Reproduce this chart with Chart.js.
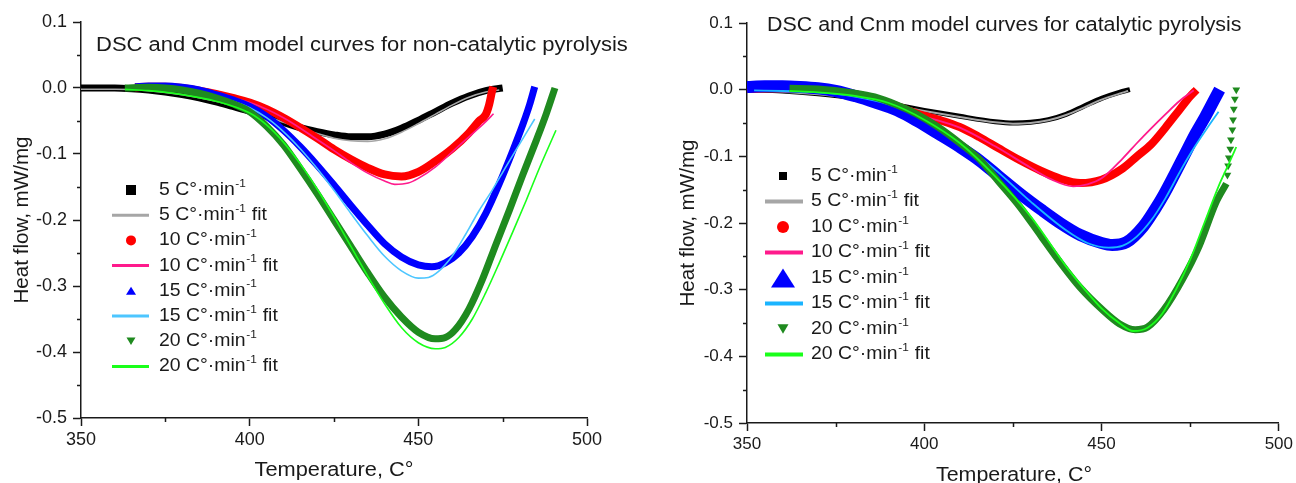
<!DOCTYPE html>
<html>
<head>
<meta charset="utf-8">
<title>DSC and Cnm model curves</title>
<script src="https://cdn.jsdelivr.net/npm/chart.js@4.4.1/dist/chart.umd.min.js"></script>
<style>
	html, body { margin: 0; padding: 0; background: #fff; }
	.panel { position: absolute; top: 0; width: 648px; height: 483px; }
	#panel-nc { left: 0; }
	#panel-ct { left: 648px; }
</style>
</head>
<body>
<div class="panel" id="panel-nc"><canvas id="chartNc"></canvas></div>
<div class="panel" id="panel-ct"><canvas id="chartCt"></canvas></div>
<script>
(function() {
	'use strict';

	/* ═══ DATA ═══ */

	var xMajor = [ 350, 400, 450, 500 ];
	var xMinor = [ 375, 425, 475 ];
	var yMajor = [ 0.1, 0.0, -0.1, -0.2, -0.3, -0.4, -0.5 ];
	var yMinor = [ 0.05, -0.05, -0.15, -0.25, -0.35, -0.45 ];

	var seriesNames = [
		'5 C°·min⁻¹', '5 C°·min⁻¹ fit',
		'10 C°·min⁻¹', '10 C°·min⁻¹ fit',
		'15 C°·min⁻¹', '15 C°·min⁻¹ fit',
		'20 C°·min⁻¹', '20 C°·min⁻¹ fit'
	];

	// non-catalytic pyrolysis (left)
	var ncT5     = [ 350, 355, 360, 365, 370, 375, 380, 385, 390, 395, 400, 405, 410, 415, 420, 425, 430, 435, 440, 445, 450, 455, 460, 465, 470, 475 ];
	var ncDsc5   = [ 0.000, 0.000, 0.000, -0.001, -0.003, -0.006, -0.010, -0.015, -0.021, -0.028, -0.035, -0.043, -0.052, -0.060, -0.066, -0.071, -0.074, -0.074, -0.070, -0.061, -0.049, -0.036, -0.023, -0.012, -0.004, 0.000 ];
	var ncFitT5  = [ 350, 360, 370, 380, 390, 400, 410, 420, 425, 430, 435, 440, 445, 450, 455, 460, 465, 470, 474 ];
	var ncFit5   = [ -0.002, -0.002, -0.004, -0.010, -0.020, -0.034, -0.052, -0.069, -0.076, -0.080, -0.081, -0.077, -0.067, -0.054, -0.040, -0.026, -0.014, -0.006, -0.003 ];

	var ncT10    = [ 366, 370, 375, 380, 385, 390, 395, 400, 405, 410, 415, 420, 425, 430, 435, 440, 445, 450, 455, 460, 465, 468, 470, 471, 471.8, 472.2 ];
	var ncDsc10  = [ 0.001, 0.002, 0.002, 0.000, -0.004, -0.009, -0.015, -0.022, -0.032, -0.045, -0.060, -0.076, -0.093, -0.108, -0.121, -0.131, -0.134, -0.127, -0.111, -0.092, -0.068, -0.050, -0.040, -0.025, -0.006, 0.002 ];
	var ncFitT10 = [ 365, 370, 380, 390, 400, 410, 420, 425, 430, 435, 440, 443, 447, 450, 455, 460, 465, 470, 472.3 ];
	var ncFit10  = [ -0.003, -0.003, -0.005, -0.011, -0.022, -0.045, -0.078, -0.095, -0.113, -0.129, -0.141, -0.146, -0.144, -0.137, -0.120, -0.097, -0.074, -0.051, -0.039 ];

	var ncT15    = [ 366, 370, 375, 380, 385, 390, 395, 400, 405, 410, 415, 420, 425, 430, 435, 440, 445, 450, 454, 458, 462, 466, 470, 474, 478, 481, 483, 484.5 ];
	var ncDsc15  = [ 0.002, 0.003, 0.003, 0.001, -0.003, -0.010, -0.018, -0.028, -0.043, -0.064, -0.089, -0.117, -0.147, -0.178, -0.208, -0.236, -0.256, -0.268, -0.271, -0.265, -0.250, -0.225, -0.190, -0.145, -0.095, -0.055, -0.025, 0.002 ];
	var ncFitT15 = [ 366, 375, 385, 395, 400, 405, 410, 415, 420, 425, 430, 435, 440, 445, 450, 453, 456, 460, 464, 468, 472, 476, 480, 484.5 ];
	var ncFit15  = [ -0.002, -0.003, -0.008, -0.020, -0.030, -0.045, -0.066, -0.092, -0.122, -0.155, -0.190, -0.224, -0.255, -0.277, -0.288, -0.287, -0.278, -0.255, -0.222, -0.186, -0.154, -0.119, -0.085, -0.047 ];

	var ncT20    = [ 363, 370, 375, 380, 385, 390, 395, 400, 405, 410, 415, 420, 425, 430, 435, 440, 445, 450, 455, 458, 461, 465, 469, 473, 477, 481, 485, 488, 490.5 ];
	var ncDsc20  = [ 0.000, 0.001, 0.000, -0.003, -0.008, -0.015, -0.024, -0.036, -0.058, -0.086, -0.122, -0.160, -0.200, -0.240, -0.280, -0.317, -0.347, -0.370, -0.380, -0.378, -0.366, -0.335, -0.290, -0.237, -0.185, -0.131, -0.079, -0.038, 0.000 ];
	var ncFitT20 = [ 363, 370, 380, 390, 400, 405, 410, 415, 420, 425, 430, 435, 440, 445, 450, 455, 458, 462, 466, 470, 474, 478, 482, 486, 490.8 ];
	var ncFit20  = [ -0.002, -0.004, -0.010, -0.020, -0.038, -0.056, -0.082, -0.115, -0.153, -0.195, -0.240, -0.285, -0.327, -0.363, -0.386, -0.395, -0.393, -0.378, -0.350, -0.310, -0.265, -0.218, -0.170, -0.120, -0.064 ];

	// catalytic pyrolysis (right)
	var ctT5     = [ 350, 360, 370, 380, 390, 400, 410, 420, 425, 430, 435, 440, 445, 450, 455, 458 ];
	var ctDsc5   = [ 0.000, -0.002, -0.006, -0.012, -0.021, -0.031, -0.040, -0.048, -0.050, -0.049, -0.045, -0.037, -0.025, -0.013, -0.004, 0.000 ];
	var ctFitT5  = [ 350, 360, 370, 380, 390, 400, 410, 420, 425, 430, 435, 440, 445, 450, 455, 457.5 ];
	var ctFit5   = [ -0.001, -0.003, -0.007, -0.013, -0.022, -0.032, -0.041, -0.049, -0.051, -0.050, -0.046, -0.038, -0.027, -0.015, -0.006, -0.002 ];

	var ctT10    = [ 350, 360, 370, 380, 390, 398, 404, 410, 415.5, 421, 427, 433, 438.6, 444, 450, 456, 460, 464, 468, 472, 475, 476.8 ];
	var ctDsc10  = [ 0.001, 0.002, 0.000, -0.006, -0.020, -0.036, -0.045, -0.056, -0.071, -0.088, -0.106, -0.122, -0.134, -0.140, -0.135, -0.118, -0.100, -0.082, -0.057, -0.030, -0.010, 0.000 ];
	var ctFitT10 = [ 350, 370, 390, 400, 410, 420, 430, 436, 442, 446, 450, 456, 460, 464, 468, 472, 476 ];
	var ctFit10  = [ -0.001, -0.003, -0.020, -0.040, -0.057, -0.085, -0.117, -0.135, -0.145, -0.142, -0.133, -0.103, -0.080, -0.058, -0.037, -0.017, -0.001 ];

	var ctT15    = [ 350, 355, 360, 365, 370, 375, 380.7, 386, 392.3, 398, 403.9, 410, 415.5, 421, 427, 433, 438.6, 444, 450, 453, 457, 461.8, 465, 467.6, 470.5, 473.4, 476.5, 479.3, 481.5, 483.3 ];
	var ctDsc15  = [ 0.004, 0.005, 0.005, 0.004, 0.002, -0.002, -0.010, -0.019, -0.031, -0.047, -0.066, -0.086, -0.106, -0.130, -0.156, -0.180, -0.201, -0.218, -0.230, -0.233, -0.229, -0.205, -0.180, -0.157, -0.128, -0.098, -0.066, -0.040, -0.018, 0.000 ];
	var ctFitT15 = [ 352, 360, 370, 380, 390, 400, 410, 420, 430, 440, 446, 452, 456, 460, 464, 468, 472, 476, 480, 483 ];
	var ctFit15  = [ -0.001, -0.002, -0.004, -0.010, -0.022, -0.045, -0.078, -0.120, -0.168, -0.211, -0.230, -0.237, -0.234, -0.220, -0.196, -0.163, -0.124, -0.088, -0.056, -0.033 ];

	var ctT20    = [ 362, 370, 380, 386, 392.3, 398, 403.9, 410, 415.5, 421, 427, 433, 438.6, 444, 450.2, 455, 459.5, 463, 467.6, 472.8, 477.5, 482.2, 485.2 ];
	var ctDsc20  = [ 0.002, 0.001, -0.005, -0.011, -0.023, -0.037, -0.056, -0.080, -0.104, -0.138, -0.176, -0.220, -0.261, -0.297, -0.330, -0.351, -0.360, -0.356, -0.330, -0.285, -0.235, -0.170, -0.141 ];
	var ctTailT20 = [ 485.5, 485.7, 485.9, 486.3, 486.5, 486.9, 487.1, 487.3, 487.6, 488.0 ];
	var ctTail20  = [ -0.128, -0.114, -0.102, -0.089, -0.075, -0.060, -0.045, -0.029, -0.014, 0.000 ];
	var ctFitT20 = [ 362, 370, 380, 390, 400, 410, 420, 430, 440, 445, 450, 455, 459, 463, 467, 471, 475, 479, 483, 486, 488 ];
	var ctFit20  = [ -0.002, -0.004, -0.009, -0.020, -0.045, -0.080, -0.130, -0.190, -0.265, -0.298, -0.328, -0.350, -0.362, -0.357, -0.337, -0.300, -0.255, -0.200, -0.145, -0.110, -0.086 ];

	/* ═══ HELPERS ═══ */

	var FONT = '"Liberation Sans", Arial, Helvetica, sans-serif';
	var INK  = '#1a1a1a';

	function pts( t, v ) {
		var out = [];
		for ( var i = 0; i < t.length; i++ ) out.push({ x: t[i], y: v[i] });
		return out;
	}

	function band( label, t, v, color, width, symbol ) {
		return {
			label: label,
			data: pts( t, v ),
			borderColor: color,
			backgroundColor: color,
			borderWidth: width,
			borderCapStyle: 'butt',
			borderJoinStyle: 'round',
			cubicInterpolationMode: 'monotone',
			pointRadius: 0,
			fill: false,
			symbol: symbol
		};
	}

	function fitLine( label, t, v, color, width ) {
		return {
			label: label,
			data: pts( t, v ),
			borderColor: color,
			backgroundColor: color,
			borderWidth: width,
			cubicInterpolationMode: 'monotone',
			pointRadius: 0,
			fill: false,
			symbol: { type: 'line' }
		};
	}

	// later series sit on top, like the original plot
	function stackOrder( sets ) {
		for ( var i = 0; i < sets.length; i++ ) sets[i].order = sets.length - i;
		return sets;
	}

	function stretchText( ctx, text, x, y, size, sx, align ) {
		ctx.save();
		ctx.font = size + 'px ' + FONT;
		ctx.translate( x, y );
		ctx.scale( sx, 1 );
		var w = ctx.measureText( text ).width;
		var dx = align === 'center' ? -w / 2 : 0;
		ctx.fillText( text, dx, 0 );
		ctx.restore();
	}

	function drawSymbol( ctx, sym, cx, cy, color, o ) {
		ctx.save();
		ctx.fillStyle = color;
		ctx.strokeStyle = color;
		var s = sym.size || 8;
		ctx.beginPath();
		if ( sym.type === 'line' ) {
			ctx.lineWidth = o.lineWidth;
			ctx.moveTo( o.lineFrom, cy );
			ctx.lineTo( o.lineTo, cy );
			ctx.stroke();
		} else if ( sym.type === 'rect' ) {
			ctx.fillRect( cx - s / 2, cy - s / 2, s, s );
		} else if ( sym.type === 'circle' ) {
			ctx.arc( cx, cy, s / 2, 0, Math.PI * 2 );
			ctx.fill();
		} else if ( sym.type === 'triangle' ) {
			var h = s * 0.8;
			ctx.moveTo( cx, cy - h / 2 );
			ctx.lineTo( cx + s / 2, cy + h / 2 );
			ctx.lineTo( cx - s / 2, cy + h / 2 );
			ctx.closePath();
			ctx.fill();
		} else if ( sym.type === 'triangleDown' ) {
			var h2 = s * 0.85;
			ctx.moveTo( cx - s / 2, cy - h2 / 2 );
			ctx.lineTo( cx + s / 2, cy - h2 / 2 );
			ctx.lineTo( cx, cy + h2 / 2 );
			ctx.closePath();
			ctx.fill();
		}
		ctx.restore();
	}

	// label with the "⁻¹" drawn as a raised small "-1"
	function drawLegendLabel( ctx, label, x, y, size, sx ) {
		var parts = label.split( '⁻¹' );
		ctx.save();
		ctx.translate( x, y );
		ctx.scale( sx, 1 );
		ctx.textBaseline = 'middle';
		ctx.font = size + 'px ' + FONT;
		ctx.fillText( parts[0], 0, 0 );
		var w = ctx.measureText( parts[0] ).width;
		if ( parts.length > 1 ) {
			ctx.font = Math.round( size * 0.62 ) + 'px ' + FONT;
			ctx.fillText( '-1', w + 0.5, -size * 0.36 );
			w += ctx.measureText( '-1' ).width + 1;
			ctx.font = size + 'px ' + FONT;
			ctx.fillText( parts[1], w, 0 );
		}
		ctx.restore();
	}

	/* ═══ DECORATION PLUGIN (titles, minor ticks, inner legend) ═══ */

	var decorPlugin = {
		id: 'decor',
		afterDraw: function( chart, args, o ) {
			var ctx  = chart.ctx;
			var xs   = chart.scales.x;
			var ys   = chart.scales.y;
			var area = chart.chartArea;
			ctx.save();

			// minor ticks
			ctx.strokeStyle = INK;
			ctx.lineWidth = 1.5;
			ctx.beginPath();
			xMinor.forEach( function( v ) {
				var px = Math.round( xs.getPixelForValue( v ) ) + 0.5;
				ctx.moveTo( px, area.bottom );
				ctx.lineTo( px, area.bottom + 4 );
			});
			yMinor.forEach( function( v ) {
				var py = Math.round( ys.getPixelForValue( v ) ) + 0.5;
				ctx.moveTo( area.left - 4, py );
				ctx.lineTo( area.left, py );
			});
			ctx.stroke();

			ctx.fillStyle = INK;
			ctx.textBaseline = 'middle';

			// chart title
			stretchText( ctx, o.title.text, o.title.x, o.title.y, o.title.size, o.title.sx, 'left' );

			// axis titles
			ctx.textBaseline = 'alphabetic';
			stretchText( ctx, o.xTitle.text, o.xTitle.x, o.xTitle.y, o.xTitle.size, o.xTitle.sx, 'center' );
			ctx.save();
			ctx.translate( o.yTitle.x, o.yTitle.y );
			ctx.rotate( -Math.PI / 2 );
			ctx.textBaseline = 'middle';
			stretchText( ctx, o.yTitle.text, 0, 0, o.yTitle.size, o.yTitle.sx, 'center' );
			ctx.restore();

			// legend
			var lg = o.legend;
			var row = 0;
			chart.data.datasets.forEach( function( ds ) {
				if ( ! ds.symbol ) return;
				var cy = lg.y + row * lg.step;
				drawSymbol( ctx, ds.symbol, lg.symbolX, cy, ds.borderColor, lg );
				ctx.fillStyle = INK;
				drawLegendLabel( ctx, ds.label, lg.textX, cy, lg.size, lg.sx );
				row++;
			});

			ctx.restore();
		}
	};

	function yLabel( v ) {
		if ( Math.abs( v ) < 1e-9 ) return '0.0';
		return v.toFixed( 1 );
	}

	function makeOptions( cfg ) {
		return {
			responsive: true,
			maintainAspectRatio: false,
			animation: false,
			layout: { padding: { left: 0, right: cfg.padRight, top: cfg.padTop, bottom: 0 } },
			plugins: {
				legend: { display: false },
				tooltip: { enabled: false },
				decor: cfg.decor
			},
			scales: {
				x: {
					type: 'linear',
					min: xMajor[0],
					max: xMajor[ xMajor.length - 1 ],
					afterBuildTicks: function( s ) {
						s.ticks = xMajor.map( function( v ) { return { value: v }; } );
					},
					afterFit: function( s ) { s.height = cfg.xHeight; },
					ticks: {
						font: { family: FONT, size: cfg.tickSize },
						color: INK,
						padding: 3,
						maxRotation: 0,
						callback: function( v ) { return String( v ); }
					},
					grid: { drawOnChartArea: false, tickLength: 8, tickColor: INK, tickWidth: 1.5 },
					border: { display: true, color: INK, width: 1.5 }
				},
				y: {
					type: 'linear',
					min: yMajor[ yMajor.length - 1 ],
					max: yMajor[0],
					afterBuildTicks: function( s ) {
						s.ticks = yMajor.slice().reverse().map( function( v ) { return { value: v }; } );
					},
					afterFit: function( s ) { s.width = cfg.yWidth; },
					ticks: {
						font: { family: FONT, size: cfg.tickSize },
						color: INK,
						padding: 6,
						callback: yLabel
					},
					grid: { drawOnChartArea: false, tickLength: 8, tickColor: INK, tickWidth: 1.5 },
					border: { display: true, color: INK, width: 1.5 }
				}
			}
		};
	}

	/* ═══ LEFT: NON-CATALYTIC ═══ */

	function initNonCatalytic() {
		var el = document.getElementById( 'chartNc' );
		if ( ! el ) return;

		var sets = stackOrder([
			band( seriesNames[0], ncT5, ncDsc5, '#000000', 7, { type: 'rect', size: 10 } ),
			fitLine( seriesNames[1], ncFitT5, ncFit5, '#a6a6a6', 1.6 ),
			band( seriesNames[2], ncT10, ncDsc10, '#ff0000', 8, { type: 'circle', size: 10 } ),
			fitLine( seriesNames[3], ncFitT10, ncFit10, '#ff1a8c', 1.6 ),
			band( seriesNames[4], ncT15, ncDsc15, '#0000ff', 7, { type: 'triangle', size: 10 } ),
			fitLine( seriesNames[5], ncFitT15, ncFit15, '#4dc6ff', 1.6 ),
			band( seriesNames[6], ncT20, ncDsc20, '#1f8a1f', 7, { type: 'triangleDown', size: 9 } ),
			fitLine( seriesNames[7], ncFitT20, ncFit20, '#1aff1a', 1.6 )
		]);

		new Chart( el.getContext( '2d' ), {
			type: 'line',
			data: { datasets: sets },
			options: makeOptions({
				padRight: 61,
				padTop: 22,
				xHeight: 65,
				yWidth: 81,
				tickSize: 18,
				decor: {
					title:  { text: 'DSC and Cnm model curves for non-catalytic pyrolysis', x: 96, y: 45, size: 20, sx: 1.1 },
					xTitle: { text: 'Temperature, C°', x: 334, y: 476, size: 20, sx: 1.09 },
					yTitle: { text: 'Heat flow, mW/mg', x: 22, y: 220, size: 20, sx: 1.03 },
					legend: { y: 190, step: 25.2, symbolX: 131, lineFrom: 112, lineTo: 149, lineWidth: 3, textX: 159, size: 18, sx: 1.08 }
				}
			}),
			plugins: [ decorPlugin ]
		});
	}

	/* ═══ RIGHT: CATALYTIC ═══ */

	function initCatalytic() {
		var el = document.getElementById( 'chartCt' );
		if ( ! el ) return;

		var tail = {
			label: 'tail',
			data: pts( ctTailT20, ctTail20 ),
			showLine: false,
			pointStyle: 'triangle',
			rotation: 180,
			pointRadius: 4.5,
			pointBackgroundColor: '#1f8a1f',
			pointBorderWidth: 0,
			borderColor: '#1f8a1f'
		};

		var sets = stackOrder([
			band( seriesNames[0], ctT5, ctDsc5, '#000000', 5, { type: 'rect', size: 8 } ),
			fitLine( seriesNames[1], ctFitT5, ctFit5, '#a6a6a6', 2 ),
			band( seriesNames[2], ctT10, ctDsc10, '#ff0000', 8, { type: 'circle', size: 12 } ),
			fitLine( seriesNames[3], ctFitT10, ctFit10, '#ff1a8c', 1.8 ),
			band( seriesNames[4], ctT15, ctDsc15, '#0000ff', 12, { type: 'triangle', size: 24 } ),
			fitLine( seriesNames[5], ctFitT15, ctFit15, '#1ab4ff', 1.8 ),
			band( seriesNames[6], ctT20, ctDsc20, '#1f8a1f', 7, { type: 'triangleDown', size: 11 } ),
			tail,
			fitLine( seriesNames[7], ctFitT20, ctFit20, '#1aff1a', 1.8 )
		]);

		new Chart( el.getContext( '2d' ), {
			type: 'line',
			data: { datasets: sets },
			options: makeOptions({
				padRight: 16,
				padTop: 23,
				xHeight: 60,
				yWidth: 99,
				tickSize: 17,
				decor: {
					title:  { text: 'DSC and Cnm model curves for catalytic pyrolysis', x: 119, y: 25, size: 20, sx: 1.07 },
					xTitle: { text: 'Temperature, C°', x: 366, y: 481, size: 20, sx: 1.07 },
					yTitle: { text: 'Heat flow, mW/mg', x: 40, y: 223, size: 20, sx: 1.03 },
					legend: { y: 176, step: 25.5, symbolX: 135, lineFrom: 117, lineTo: 155, lineWidth: 4, textX: 163, size: 18, sx: 1.08 }
				}
			}),
			plugins: [ decorPlugin ]
		});
	}

	initNonCatalytic();
	initCatalytic();

})();
</script>
</body>
</html>
